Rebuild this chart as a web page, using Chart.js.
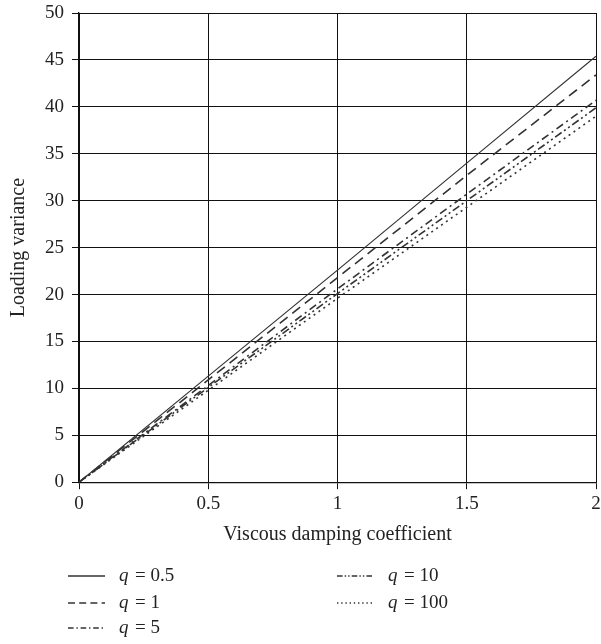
<!DOCTYPE html>
<html lang="en">

<head>
    <meta charset="UTF-8">
    <title>Loading variance</title>
    <style>
        html, body {
            margin: 0;
            padding: 0;
            background: #fff;
        }
        #wrap {
            width: 601px;
            height: 644px;
        }
    </style>
    <script src="https://cdn.jsdelivr.net/npm/chart.js"></script>
</head>

<body>
    <div id="wrap"><canvas id="myChart" width="601" height="644"></canvas></div>

    <script>
        // data
        const xValues = [0, 0.5, 1, 1.5, 2];
        const qLabels = ["0.5", "1", "5", "10", "100"];
        const q05 = [0, 11.3, 22.6, 34.0, 45.4];
        const q1 = [0, 10.9, 21.8, 32.7, 43.4];
        const q5 = [0, 10.3, 20.6, 30.7, 40.7];
        const q10 = [0, 10.1, 20.1, 30.0, 39.9];
        const q100 = [0, 9.8, 19.6, 29.3, 39.0];
        const xTicks = [0, 0.5, 1, 1.5, 2];
        const yTicks = [0, 5, 10, 15, 20, 25, 30, 35, 40, 45, 50];

        const serif = "'Liberation Serif', 'DejaVu Serif', serif";
        const ink = "#333";

        const seriesValues = [q05, q1, q5, q10, q100];
        const dashes = [[], [10, 6], [8, 4, 2, 4], [8, 3, 2, 3, 2, 3], [2, 4]];
        const widths = [1.2, 1.6, 1.6, 1.6, 1.6];

        function points(values) {
            let out = [];
            for (let i = 0; i < xValues.length; i++) {
                out.push({ x: xValues[i], y: values[i] });
            }
            return out;
        }

        let dataSets = [];
        for (let i = 0; i < seriesValues.length; i++) {
            dataSets.push({
                label: "q = " + qLabels[i],
                data: points(seriesValues[i]),
                borderColor: ink,
                borderWidth: widths[i],
                borderDash: dashes[i],
                pointRadius: 0,
                fill: false,
                tension: 0
            });
        }

        // legend in two columns, drawn under the axis title
        const legendPlugin = {
            id: "qLegend",
            afterDraw(chart) {
                const ctx = chart.ctx;
                const cols = [68, 337];
                const rows = [576, 603, 628];
                const order = [[0, 0], [0, 1], [0, 2], [1, 0], [1, 1]];
                ctx.save();
                chart.data.datasets.forEach((ds, i) => {
                    const x = cols[order[i][0]];
                    const y = rows[order[i][1]];
                    ctx.strokeStyle = ink;
                    ctx.lineWidth = 1.3;
                    ctx.setLineDash(ds.borderDash.map(d => d * 0.7));
                    ctx.beginPath();
                    ctx.moveTo(x, y);
                    ctx.lineTo(x + 37, y);
                    ctx.stroke();
                    ctx.setLineDash([]);

                    ctx.fillStyle = "#222";
                    ctx.textBaseline = "middle";
                    ctx.textAlign = "left";
                    ctx.font = "italic 19px " + serif;
                    ctx.fillText("q", x + 51, y);
                    ctx.font = "19px " + serif;
                    ctx.fillText("= " + qLabels[i], x + 67, y);
                });
                ctx.restore();
            }
        };

        const myCanvas = document.getElementById("myChart");

        const myChart = new Chart(myCanvas, {
            type: "line",
            data: { datasets: dataSets },
            plugins: [legendPlugin],
            options: {
                responsive: false,
                animation: false,
                layout: {
                    padding: { top: 0, right: 0, bottom: 97, left: 7 }
                },
                plugins: {
                    legend: { display: false },
                    tooltip: { enabled: false }
                },
                scales: {
                    x: {
                        type: "linear",
                        min: 0,
                        max: 2,
                        afterBuildTicks: axis => {
                            axis.ticks = xTicks.map(v => ({ value: v }));
                        },
                        afterFit: axis => {
                            axis.paddingRight = 5;
                        },
                        ticks: {
                            color: "#222",
                            font: { family: serif, size: 19 },
                            padding: 3,
                            maxRotation: 0,
                            callback: v => String(v)
                        },
                        grid: {
                            color: "#111",
                            lineWidth: 1,
                            tickLength: 7
                        },
                        border: { color: "#111", width: 1.3 },
                        title: {
                            display: true,
                            text: "Viscous damping coefficient",
                            color: "#222",
                            font: { family: serif, size: 20 },
                            padding: { top: 5, bottom: 0 }
                        }
                    },
                    y: {
                        type: "linear",
                        min: 0,
                        max: 50,
                        afterBuildTicks: axis => {
                            axis.ticks = yTicks.map(v => ({ value: v }));
                        },
                        afterFit: axis => {
                            axis.paddingTop = 13;
                        },
                        ticks: {
                            color: "#222",
                            font: { family: serif, size: 19 },
                            padding: 8
                        },
                        grid: {
                            color: "#111",
                            lineWidth: 1,
                            tickLength: 7
                        },
                        border: { color: "#111", width: 1.3 },
                        title: {
                            display: true,
                            text: "Loading variance",
                            color: "#222",
                            font: { family: serif, size: 20 },
                            padding: { top: 0, bottom: 6 }
                        }
                    }
                }
            }
        });
    </script>
</body>

</html>
